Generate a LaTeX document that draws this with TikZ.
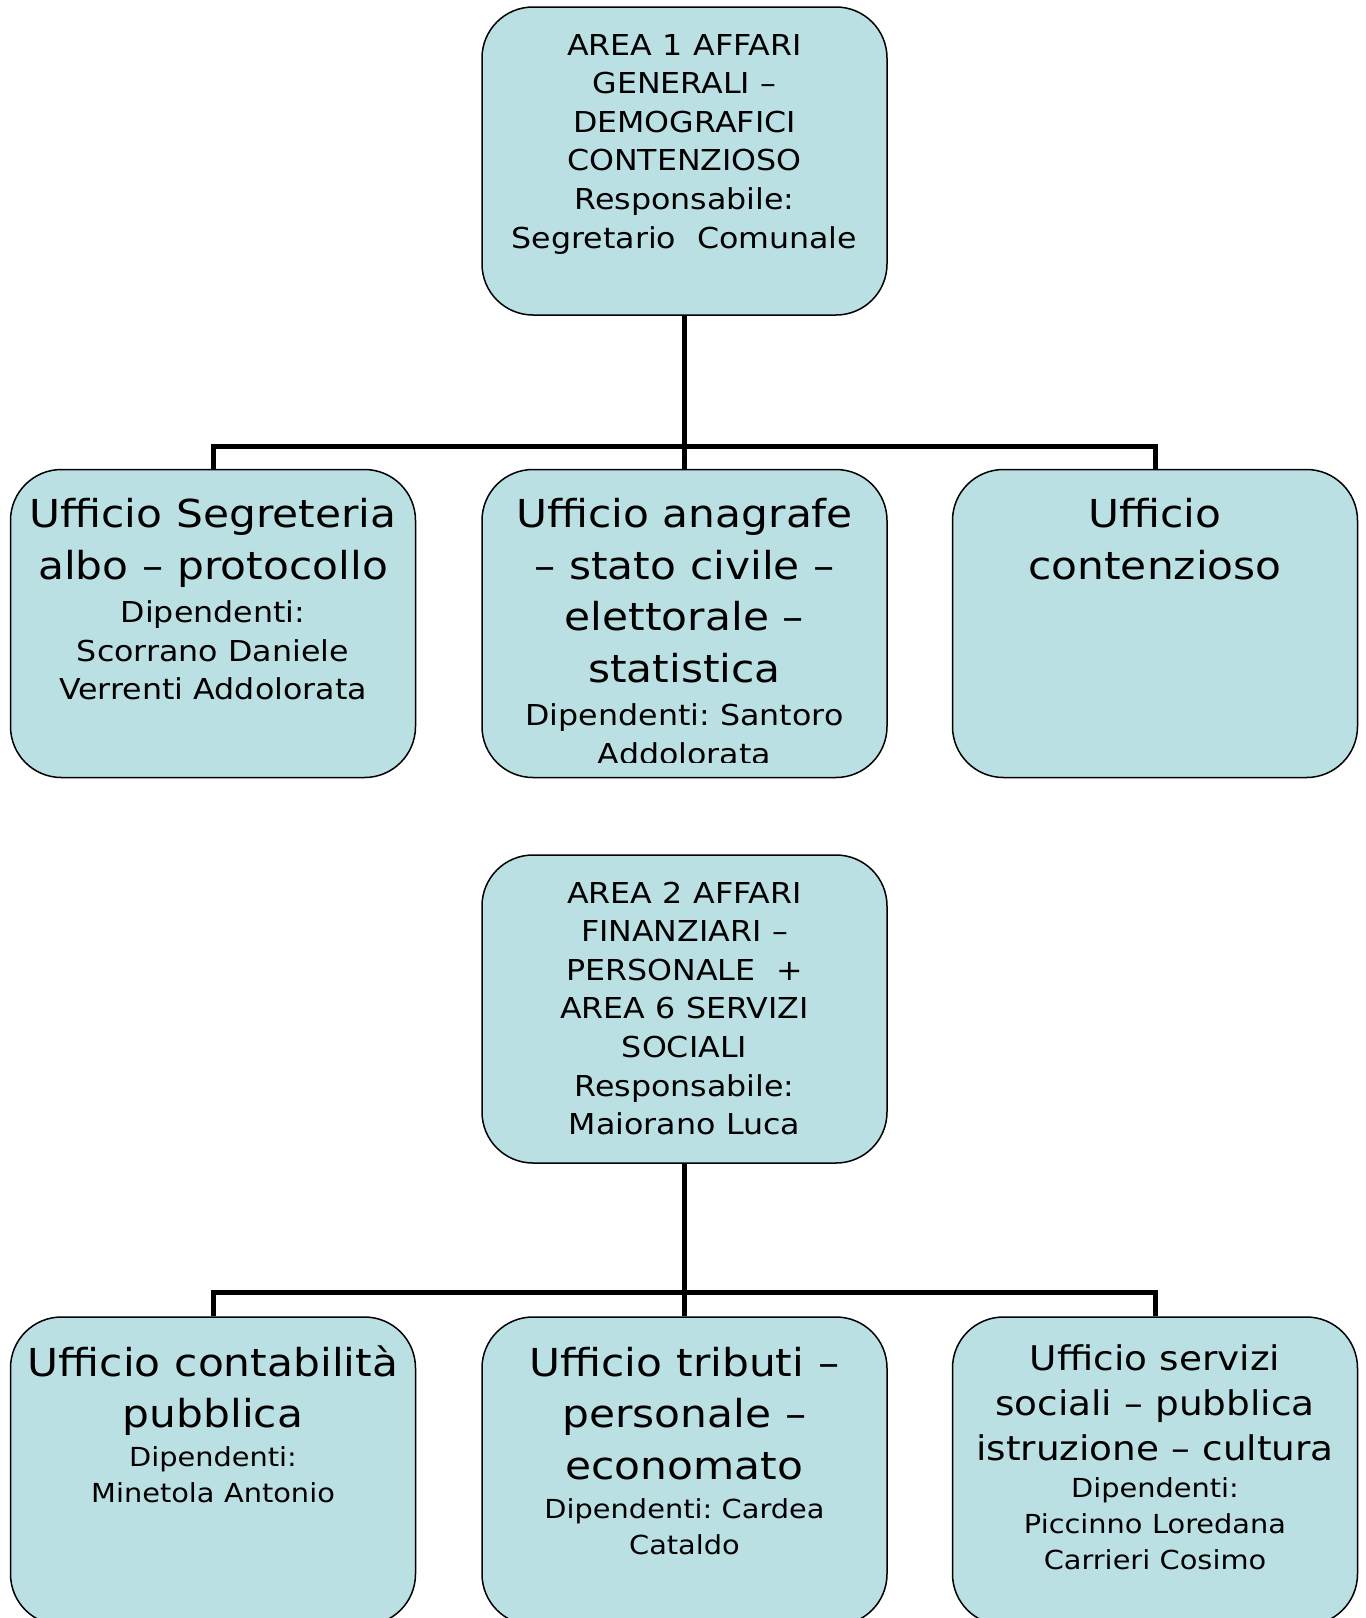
\documentclass[tikz,border=0pt]{standalone}
\usepackage{fontspec}
\setmainfont{DejaVu Sans}[FakeStretch=1.1]
\usepackage{tikz}
\definecolor{azzurro}{HTML}{BBE0E3}
\newcommand{\spazi}{\spaceskip=0.36em\xspaceskip=0.36em\relax}
\newcommand{\grande}{\fontsize{38.5}{51.5}\selectfont\spazi}
\newcommand{\medio}{\fontsize{34}{45}\selectfont\spazi}
\newcommand{\piccolo}{\fontsize{28.8}{38.6}\selectfont\spazi}
\newcommand{\minore}{\fontsize{26.2}{36}\selectfont\spazi}

\begin{document}
\begin{tikzpicture}[x=1pt, y=-1pt,
  riquadro/.style={draw=black, line width=1.5pt, fill=azzurro, rounded corners=51pt,
    minimum width=405pt, minimum height=308pt, inner sep=0pt},
  testo/.style={anchor=base, text width=400pt, align=center, inner sep=0pt},
  linea/.style={line width=5pt, line join=miter}]
  \useasboundingbox (0,0) rectangle (1366,1618);
  \clip (0,0) rectangle (1366,1618);

  \node[riquadro] (a1) at (684.5,161) {};
  \node[riquadro] (u11) at (213,623.5) {};
  \node[riquadro] (u12) at (684.5,623.5) {};
  \node[riquadro] (u13) at (1155,623.5) {};
  \node[riquadro] (a2) at (684.5,1009) {};
  \node[riquadro] (u21) at (213,1471) {};
  \node[riquadro] (u22) at (684.5,1471) {};
  \node[riquadro] (u23) at (1155,1471) {};

  \coordinate (nodo1) at (684.5,446);
  \coordinate (nodo2) at (684.5,1292);
  \draw[linea] (a1.south) -- (u12.north);
  \draw[linea] (u11.north) |- (nodo1) -| (u13.north);
  \draw[linea] (a2.south) -- (u22.north);
  \draw[linea] (u21.north) |- (nodo2) -| (u23.north);

  \node[testo] (t1) at (684.5,55) {\piccolo AREA 1 AFFARI\\GENERALI –\\DEMOGRAFICI\\CONTENZIOSO\\Responsabile:\\Segretario\ \ Comunale\par};
  \node[testo] (t11) at (213,527.5) {{\grande Ufficio Segreteria\\albo – protocollo\par}\vspace{5pt}{\piccolo Dipendenti:\\Scorrano Daniele\\Verrenti Addolorata\par}};
  \begin{scope}
    \clip (482,470) rectangle (887,762);
    \node[testo] (t12) at (684.5,527.5) {{\grande Ufficio anagrafe\\– stato civile –\\elettorale –\\statistica\par}\vspace{5pt}{\piccolo Dipendenti: Santoro\\Addolorata\par}};
  \end{scope}
  \node[testo] (t13) at (1155,527.5) {\grande Ufficio\\contenzioso\par};

  \node[testo] (t2) at (684.5,903) {\piccolo AREA 2 AFFARI\\FINANZIARI –\\PERSONALE\ \ +\\AREA 6 SERVIZI\\SOCIALI\\Responsabile:\\Maiorano Luca\par};
  \node[testo] (t21) at (213,1376) {{\grande Ufficio contabilità\\pubblica\par}\vspace{2.5pt}{\minore Dipendenti:\\Minetola Antonio\par}};
  \node[testo] (t22) at (684.5,1376) {{\grande Ufficio tributi –\\personale –\\economato\par}\vspace{3pt}{\minore Dipendenti: Cardea\\Cataldo\par}};
  \node[testo] (t23) at (1155,1370) {{\medio Ufficio servizi\\sociali – pubblica\\istruzione – cultura\par}\vspace{1.5pt}{\minore Dipendenti:\\Piccinno Loredana\\Carrieri Cosimo\par}};
\end{tikzpicture}
\end{document}
